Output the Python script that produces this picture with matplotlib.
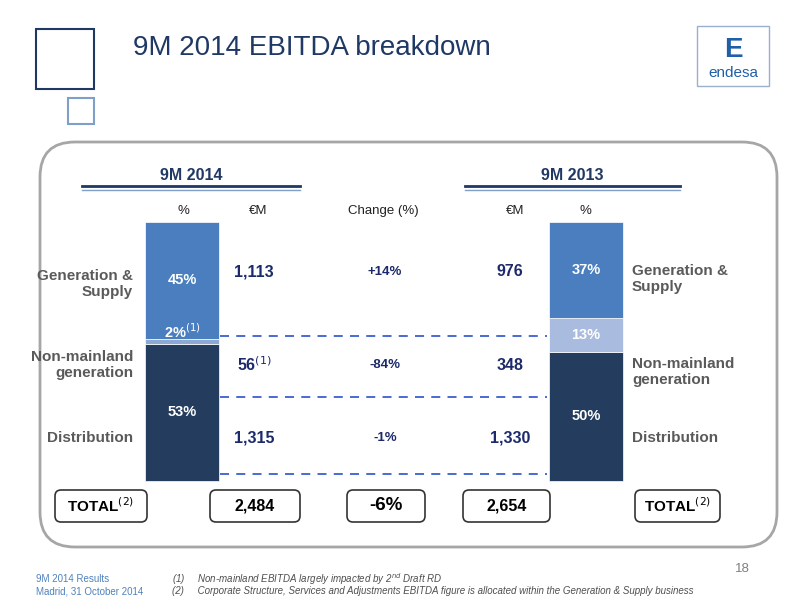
import matplotlib
matplotlib.use("Agg")
import matplotlib.pyplot as plt
from matplotlib.patches import FancyBboxPatch, Rectangle

plt.rcParams['font.family'] = ['Liberation Sans', 'DejaVu Sans']

segments = ["Distribution", "Non-mainland generation", "Generation & Supply"]
pct_2014 = [53, 2, 45]
pct_2013 = [50, 13, 37]
eur_2014 = ["1,315", "56", "1,113"]
eur_2013 = ["1,330", "348", "976"]
change = ["-1%", "-84%", "+14%"]
total_2014 = "2,484"
total_2013 = "2,654"
total_change = "-6%"

seg_colors = ["#243d5e", "#8ea8d4", "#4a7ebf"]
seg_colors_r = ["#243d5e", "#a9bcdf", "#4a7ebf"]
navy = "#1c2a6b"
grey = "#5a5a5a"

fig = plt.figure(figsize=(8, 6), dpi=100)
ax = fig.add_axes([0, 0, 1, 1])
ax.set_xlim(0, 800)
ax.set_ylim(600, 0)
ax.axis("off")

ax.add_patch(Rectangle((36, 29), 58, 60, fill=False, ec="#1f3864", lw=1.5))
ax.add_patch(Rectangle((68, 98), 26, 26, fill=False, ec="#7f9fc9", lw=1.5))
ax.text(133, 48, "9M 2014 EBITDA breakdown", fontsize=20, color="#1f3864", va="center")
ax.add_patch(Rectangle((697, 26), 72, 60, fill=False, ec="#9bb0cf", lw=1))
ax.text(733, 50, "E", fontsize=20, color="#1f5fa8", ha="center", va="center", fontweight="bold")
ax.text(733, 73, "endesa", fontsize=11, color="#1f5fa8", ha="center", va="center")

ax.add_patch(FancyBboxPatch((40, 142), 737, 405, boxstyle="round,pad=0,rounding_size=35",
                            fill=False, ec="#a6a6a6", lw=2))

for x0, x1, lab in [(82, 300, "9M 2014"), (465, 680, "9M 2013")]:
    ax.text((x0 + x1) / 2, 175, lab, fontsize=11.5, fontweight="bold", color="#1f3864", ha="center", va="center")
    ax.plot([x0, x1], [186, 186], color="#1f3864", lw=2)
    ax.plot([x0, x1], [190, 190], color="#7f9fc9", lw=1)

for x, t in [(183, "%"), (258, "€M"), (383, "Change (%)"), (515, "€M"), (585, "%")]:
    ax.text(x, 211, t, fontsize=9.5, color="#222222", ha="center", va="center")

scale = 2.59
bottom_y = 481
for xc, pcts, cols in [(182, pct_2014, seg_colors), (586, pct_2013, seg_colors_r)]:
    bottoms = [bottom_y - sum(pcts[:i]) * scale for i in range(3)]
    ax.bar([xc] * 3, [-p * scale for p in pcts], bottom=bottoms,
           width=74, color=cols, edgecolor="white", linewidth=0.5)
    for i in range(3):
        yc = bottoms[i] - pcts[i] * scale / 2
        if pcts[i] < 5:
            yc = bottoms[i] - pcts[i] * scale - 7
            ax.text(xc, yc, f"{pcts[i]}%$^{{(1)}}$", fontsize=10.5, fontweight="bold", color="white",
                    ha="center", va="center")
        else:
            ax.text(xc, yc, f"{pcts[i]}%", fontsize=10.5, fontweight="bold", color="white",
                    ha="center", va="center")

row_y = [438, 365, 272]
for i in range(3):
    y = row_y[i]
    ax.text(254, y, eur_2014[i] + ("$^{(1)}$" if i == 1 else ""), fontsize=11.5, fontweight="bold",
            color=navy, ha="center", va="center")
    ax.text(510, y, eur_2013[i], fontsize=11.5, fontweight="bold", color=navy, ha="center", va="center")
    ax.text(385, y, change[i], fontsize=9.5, fontweight="bold", color=navy, ha="center", va="center")

labels = ["Distribution", "Non-mainland\ngeneration", "Generation &\nSupply"]
for i in range(3):
    ax.text(133, [438, 365, 284][i], labels[i], fontsize=11, fontweight="bold", color=grey,
            ha="right", va="center", multialignment="right")
    ax.text(632, [438, 372, 279][i], labels[i], fontsize=11, fontweight="bold", color=grey,
            ha="left", va="center")

for y in [336, 397, 474]:
    ax.plot([220, 547], [y, y], color="#3b5fd1", lw=1.3, ls=(0, (5, 4)))

for x, w, t, fs in [(55, 92, "TOTAL$^{(2)}$", 11), (210, 90, total_2014, 11.5), (347, 78, total_change, 13.5),
                    (463, 87, total_2013, 11.5), (635, 85, "TOTAL$^{(2)}$", 11)]:
    ax.add_patch(FancyBboxPatch((x, 490), w, 32, boxstyle="round,pad=0,rounding_size=6",
                                fc="white", ec="#333333", lw=1.2))
    ax.text(x + w / 2, 506, t, fontsize=fs, fontweight="bold", color="black", ha="center", va="center")

ax.text(750, 569, "18", fontsize=9.5, color="#7f7f7f", ha="right", va="center")
ax.text(36, 579, "9M 2014 Results", fontsize=7, color="#4f81bd", va="center")
ax.text(36, 591, "Madrid, 31 October 2014", fontsize=7, color="#4f81bd", va="center")
ax.text(172, 579, "(1)     Non-mainland EBITDA largely impacted by 2$^{nd}$ Draft RD", fontsize=7,
        color="#4f4f4f", style="italic", va="center")
ax.text(172, 591, "(2)     Corporate Structure, Services and Adjustments EBITDA figure is allocated within the Generation & Supply business",
        fontsize=7, color="#4f4f4f", style="italic", va="center")

fig.savefig("out.png", dpi=100)
